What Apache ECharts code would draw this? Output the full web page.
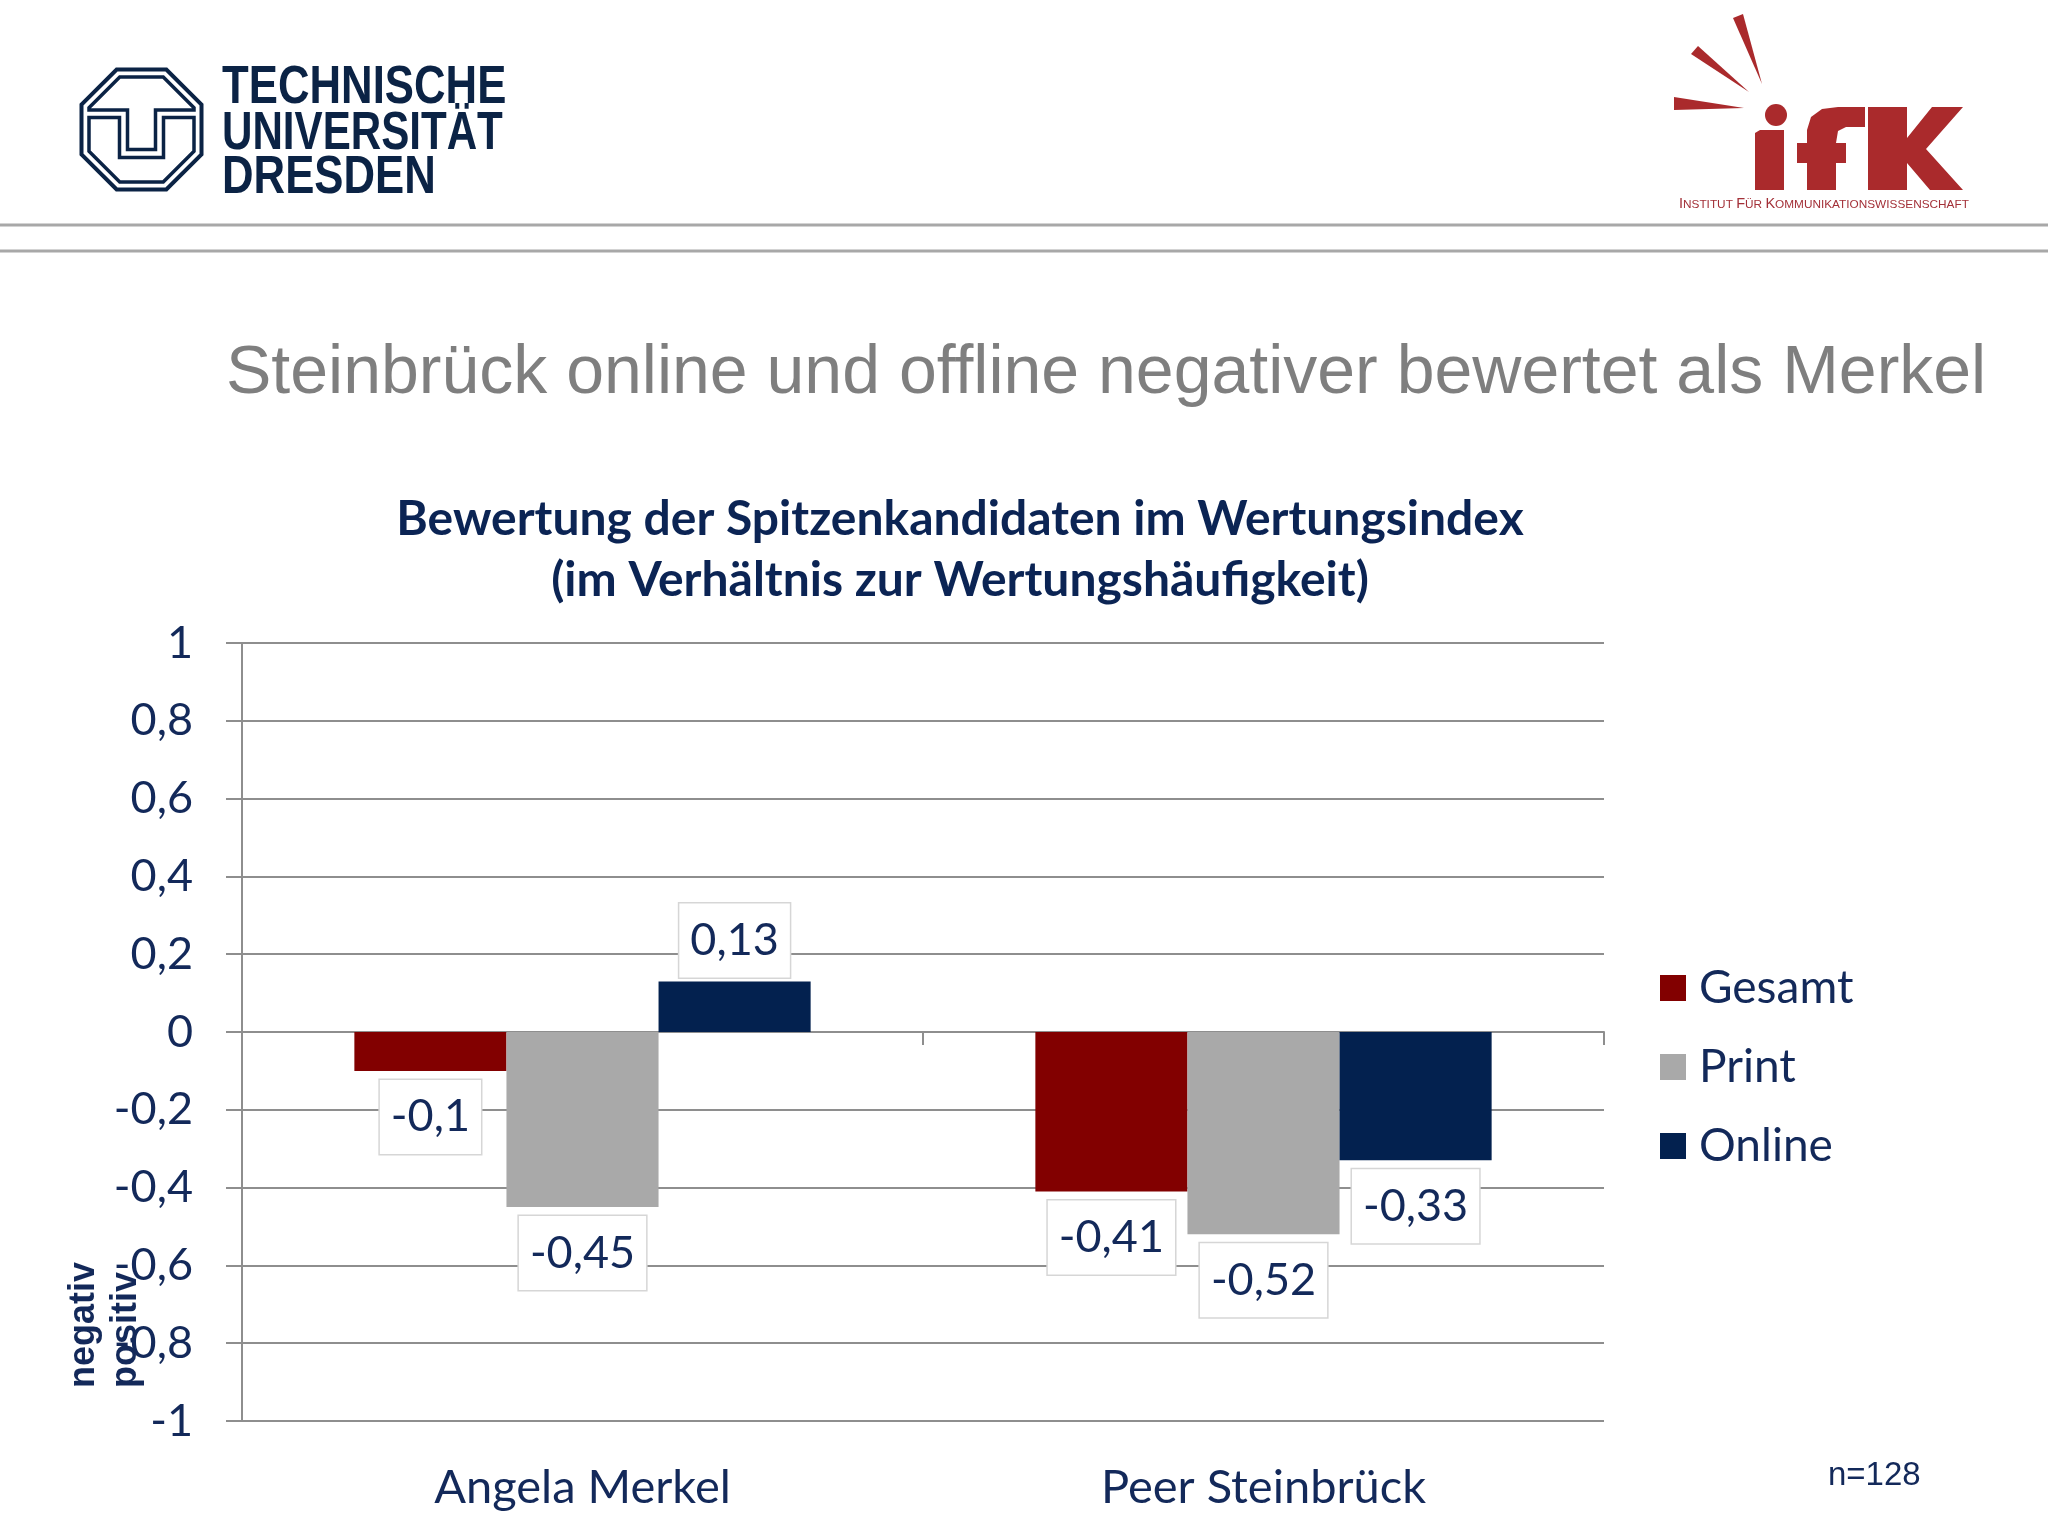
<!DOCTYPE html>
<html><head><meta charset="utf-8">
<script src="https://cdn.jsdelivr.net/npm/echarts@6/dist/echarts.min.js"></script>
<style>html,body{margin:0;padding:0;background:#fff}#c{width:2048px;height:1536px}</style>
</head><body><div id="c"></div>
<script>
// ---- data ----
const categories = ['Angela Merkel', 'Peer Steinbrück'];
const seriesNames = ['Gesamt', 'Print', 'Online'];
const gesamt = [-0.1, -0.41];
const print = [-0.45, -0.52];
const online = [0.13, -0.33];
const yMin = -1, yMax = 1, yInterval = 0.2;
const slideTitle = 'Steinbrück online und offline negativer bewertet als Merkel';
const chartTitle = 'Bewertung der Spitzenkandidaten im Wertungsindex\n(im Verhältnis zur Wertungshäufigkeit)';
const noteText = 'n=128';

const NAVY = '#13295a';
const GRID = '#8e8e8e';
const colors = ['#820000', '#a9a9a9', '#03214f'];

function fmt(v) { const r = Math.round(v * 100) / 100; return String(r).replace('.', ','); }

function makeSeries(name, values, color) {
  return {
    name: name, type: 'bar', xAxisIndex: 0, yAxisIndex: 0,
    barGap: '0%', barCategoryGap: '33%',
    itemStyle: { color: color },
    data: values.map(v => ({ value: v, label: v >= 0 ? { position: 'top', distance: 4 } : { position: 'bottom', distance: 9 } })),
    label: {
      show: true, formatter: p => fmt(p.value),
      fontFamily: 'Lato', fontSize: 45, color: NAVY, lineHeight: 54,
      backgroundColor: '#ffffff', borderColor: '#d6d6d6', borderWidth: 1.5,
      padding: [10, 11, 10, 11]
    },
    z: 3
  };
}

// TU Dresden logo geometry (relative to center)
const tuC = [141.5, 129.5];
function oct(a) {
  const s = a * Math.tan(Math.PI / 8);
  return [[-s, -a], [s, -a], [a, -s], [a, s], [s, a], [-s, a], [-a, s], [-a, -s]];
}
function shift(pts) { return pts.map(p => [p[0] + tuC[0], p[1] + tuC[1]]); }
const ia = 52.5, is = ia * Math.tan(Math.PI / 8);
const tShape = [[-is, -ia], [is, -ia], [ia, -is], [ia, -19.5], [14, -19.5], [14, 20], [-14, 20], [-14, -19.5], [-ia, -19.5], [-ia, -is]];
const uShape = [[-ia, -12], [-22, -12], [-22, 28], [22, 28], [22, -12], [ia, -12], [ia, is], [is, ia], [-is, ia], [-ia, is]];
const TUC = '#0b2345';
const RED = '#aa2a2c';

const chart = echarts.init(document.getElementById('c'), null, { renderer: 'canvas' });
chart.setOption({
  backgroundColor: '#ffffff',
  animation: false,
  title: [
    {
      text: chartTitle, left: 955, top: 484, textAlign: 'center',
      textStyle: { fontFamily: 'Lato', fontWeight: 'bold', fontSize: 48, lineHeight: 61, color: '#0b2454' }
    }
  ],
  legend: {
    orient: 'vertical', left: 1655, top: 960, itemWidth: 26, itemHeight: 26, itemGap: 33,
    icon: 'rect', data: seriesNames,
    textStyle: { fontFamily: 'Lato', fontSize: 46, lineHeight: 46, color: NAVY, padding: [0, 0, 0, 8] }
  },
  grid: { left: 242, right: 444, top: 643, bottom: 115, containLabel: false },
  xAxis: [
    {
      type: 'category', data: categories, position: 'bottom',
      axisLine: { show: true, onZero: true, lineStyle: { color: GRID, width: 2 } },
      axisTick: { show: true, length: 13, lineStyle: { color: GRID, width: 2 } },
      axisLabel: { show: false }, splitLine: { show: false }
    },
    {
      type: 'category', data: categories, position: 'bottom',
      axisLine: { show: false, onZero: false }, axisTick: { show: false },
      axisLabel: { show: true, margin: 43, fontFamily: 'Lato', fontSize: 47, color: NAVY },
      splitLine: { show: false }
    }
  ],
  yAxis: {
    type: 'value', min: yMin, max: yMax, interval: yInterval,
    axisLine: { show: true, lineStyle: { color: GRID, width: 2 } },
    axisTick: { show: true, length: 16, lineStyle: { color: GRID, width: 2 } },
    axisLabel: { margin: 49, fontFamily: 'Lato', fontSize: 45, color: NAVY, formatter: v => fmt(v) },
    splitLine: { show: true, lineStyle: { color: GRID, width: 2 } }
  },
  series: [
    makeSeries(seriesNames[0], gesamt, colors[0]),
    makeSeries(seriesNames[1], print, colors[1]),
    makeSeries(seriesNames[2], online, colors[2])
  ],
  graphic: [
    // separator lines
    { type: 'line', shape: { x1: 0, y1: 225, x2: 2048, y2: 225 }, style: { stroke: '#a8a8a8', lineWidth: 3 } },
    { type: 'line', shape: { x1: 0, y1: 251, x2: 2048, y2: 251 }, style: { stroke: '#a8a8a8', lineWidth: 3 } },
    // slide title
    { type: 'text', x: 226, y: 374, style: { text: slideTitle, fontFamily: 'Liberation Sans', fontSize: 68, fill: '#7f7f7f', verticalAlign: 'middle' } },
    // TU logo
    { type: 'polygon', shape: { points: shift(oct(60)) }, style: { fill: 'none', stroke: TUC, lineWidth: 4 } },
    { type: 'polygon', shape: { points: shift(tShape) }, style: { fill: 'none', stroke: TUC, lineWidth: 3.5 } },
    { type: 'polygon', shape: { points: shift(uShape) }, style: { fill: 'none', stroke: TUC, lineWidth: 3.5 } },
    { type: 'text', x: 222, y: 88, scaleX: 0.81, style: { text: 'TECHNISCHE', fontFamily: 'Liberation Sans', fontWeight: 'bold', fontSize: 54, fill: TUC, verticalAlign: 'middle' } },
    { type: 'text', x: 222, y: 134, scaleX: 0.78, style: { text: 'UNIVERSITÄT', fontFamily: 'Liberation Sans', fontWeight: 'bold', fontSize: 54, fill: TUC, verticalAlign: 'middle' } },
    { type: 'text', x: 222, y: 178, scaleX: 0.81, style: { text: 'DRESDEN', fontFamily: 'Liberation Sans', fontWeight: 'bold', fontSize: 54, fill: TUC, verticalAlign: 'middle' } },
    // ifK logo
    { type: 'polygon', shape: { points: [[1733, 18], [1743, 14], [1762, 84]] }, style: { fill: RED } },
    { type: 'polygon', shape: { points: [[1691, 54], [1698, 46], [1749, 92]] }, style: { fill: RED } },
    { type: 'polygon', shape: { points: [[1674, 97], [1674, 110], [1744, 108]] }, style: { fill: RED } },
    { type: 'circle', shape: { cx: 1776, cy: 115, r: 11 }, style: { fill: RED } },
    { type: 'polygon', shape: { points: [[1755, 133], [1760, 130], [1784, 130], [1784, 190], [1755, 190]] }, style: { fill: RED } },
    { type: 'polygon', shape: { points: [[1807, 190], [1807, 163], [1797, 163], [1797, 143], [1807, 143], [1807, 130], [1811, 117], [1822, 109], [1838, 107], [1865, 107], [1865, 127], [1846, 127], [1838, 131], [1836, 143], [1846, 143], [1846, 163], [1836, 163], [1836, 190]] }, style: { fill: RED } },
    { type: 'polygon', shape: { points: [[1868, 107], [1907, 107], [1907, 138], [1932, 107], [1963, 107], [1926, 149], [1963, 190], [1930, 190], [1907, 163], [1907, 190], [1868, 190]] }, style: { fill: RED } },
    { type: 'text', x: 1679, y: 211, style: {
        text: '{b|I}{s|NSTITUT} {b|F}{s|ÜR} {b|K}{s|OMMUNIKATIONSWISSENSCHAFT}',
        verticalAlign: 'bottom', fill: '#a33038',
        rich: { b: { fontFamily: 'Liberation Sans', fontSize: 14.5, fill: '#a33038', verticalAlign: 'bottom' }, s: { fontFamily: 'Liberation Sans', fontSize: 11.8, fill: '#a33038', verticalAlign: 'bottom' } }
      } },
    // rotated axis notes
    { type: 'text', x: 84, y: 1388, rotation: Math.PI / 2, style: { text: 'negativ', fontFamily: 'Liberation Sans', fontWeight: 'bold', fontSize: 36, fill: NAVY, align: 'left', verticalAlign: 'middle' } },
    { type: 'text', x: 126, y: 1388, rotation: Math.PI / 2, style: { text: 'positiv', fontFamily: 'Liberation Sans', fontWeight: 'bold', fontSize: 36, fill: NAVY, align: 'left', verticalAlign: 'middle' } },
    // note
    { type: 'text', x: 1828, y: 1476, style: { text: noteText, fontFamily: 'Liberation Sans', fontSize: 33, fill: NAVY, verticalAlign: 'middle' } }
  ]
});
</script>
</body></html>
